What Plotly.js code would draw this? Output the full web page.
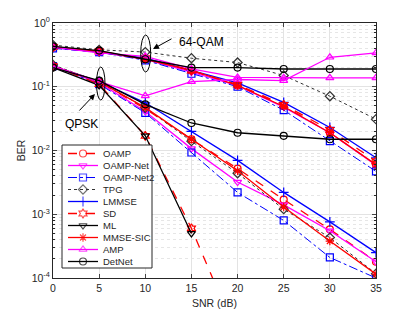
<!DOCTYPE html>
<html><head><meta charset="utf-8">
<script src="https://cdn.plot.ly/plotly-3.0.1.min.js"></script>
<style>html,body{margin:0;padding:0;background:#fff}#plot{width:415px;height:312px}</style>
</head><body><div id="plot"></div>
<script>
const snr = [0, 5, 10, 15, 20, 25, 30, 35];
const xTicks = [0, 5, 10, 15, 20, 25, 30, 35];
const yTickVals = [1e-4, 1e-3, 1e-2, 1e-1, 1];
const yTickText = ['10<sup>-4</sup>', '10<sup>-3</sup>', '10<sup>-2</sup>', '10<sup>-1</sup>', '10<sup>0</sup>'];

// QPSK
const oampQ    = [0.21, 0.12, 0.045, 0.015, 0.0052, 0.0017, 0.00058, 0.00018];
const oampNetQ = [0.21, 0.115, 0.041, 0.0107, 0.0032, 0.0014, 0.00055, 0.00018];
const oampNet2Q= [0.21, 0.11, 0.039, 0.0093, 0.0022, 0.0008, 0.00021, 0.0001];
const tpgQ     = [0.22, 0.12, 0.047, 0.014, 0.0044, 0.0012, 0.00043, 0.000117];
const lmmseQ   = [0.21, 0.12, 0.056, 0.020, 0.007, 0.0022, 0.00076, 0.00025];
const sdQ      = [0.21, 0.11, 0.017, 0.0006, 0.000012];
const mlQ      = [0.20, 0.105, 0.017, 0.0005];
const mmseSicQ = [0.21, 0.12, 0.047, 0.015, 0.0048, 0.0013, 0.00038, 0.000115];
const ampQ     = [0.21, 0.12, 0.072, 0.12, 0.13, 0.125, 0.29, 0.34];
const detNetQ  = [0.20, 0.125, 0.053, 0.027, 0.019, 0.017, 0.015, 0.015];

// 64-QAM
const oamp64    = [0.42, 0.36, 0.27, 0.18, 0.105, 0.050, 0.019, 0.0060];
const oampNet64 = [0.41, 0.35, 0.27, 0.17, 0.104, 0.048, 0.019, 0.0059];
const oampNet264= [0.40, 0.35, 0.26, 0.16, 0.100, 0.043, 0.014, 0.0047];
const tpg64     = [0.45, 0.38, 0.35, 0.28, 0.24, 0.15, 0.071, 0.031];
const lmmse64   = [0.41, 0.35, 0.28, 0.18, 0.115, 0.057, 0.023, 0.0077];
const sd64      = [0.42, 0.36, 0.28, 0.18, 0.108, 0.052, 0.021, 0.0068];
const mmseSic64 = [0.42, 0.36, 0.27, 0.18, 0.105, 0.049, 0.019, 0.0060];
const amp64     = [0.42, 0.34, 0.30, 0.19, 0.14, 0.138, 0.138, 0.138];
const detNet64  = [0.43, 0.37, 0.27, 0.20, 0.20, 0.19, 0.19, 0.19];

const names = ['OAMP','OAMP-Net','OAMP-Net2','TPG','LMMSE','SD','ML','MMSE-SIC','AMP','DetNet'];
const styles = {
  'OAMP':      {color:'#ff0000', dash:'dash',    symbol:'circle-open', width:1.3},
  'OAMP-Net':  {color:'#ff00ff', dash:'solid',   symbol:'triangle-down-open', width:1.3},
  'OAMP-Net2': {color:'#0000ff', dash:'dashdot', symbol:'square-open', width:1},
  'TPG':       {color:'#333333', dash:'dot',     symbol:'diamond-open', width:1},
  'LMMSE':     {color:'#0000ff', dash:'solid',   symbol:'cross-thin-open', width:1.3},
  'SD':        {color:'#ff0000', dash:'dash',    symbol:'hexagram-open', width:1.3},
  'ML':        {color:'#000000', dash:'solid',   symbol:'triangle-down-open', width:1.3},
  'MMSE-SIC':  {color:'#ff0000', dash:'solid',   symbol:'asterisk-open', width:1.3},
  'AMP':       {color:'#ff00ff', dash:'solid',   symbol:'triangle-up-open', width:1.3},
  'DetNet':    {color:'#000000', dash:'solid',   symbol:'circle-open', width:1.3}
};
const qpsk = {'OAMP':oampQ,'OAMP-Net':oampNetQ,'OAMP-Net2':oampNet2Q,'TPG':tpgQ,'LMMSE':lmmseQ,'SD':sdQ,'ML':mlQ,'MMSE-SIC':mmseSicQ,'AMP':ampQ,'DetNet':detNetQ};
const qam = {'OAMP':oamp64,'OAMP-Net':oampNet64,'OAMP-Net2':oampNet264,'TPG':tpg64,'LMMSE':lmmse64,'SD':sd64,'MMSE-SIC':mmseSic64,'AMP':amp64,'DetNet':detNet64};

function tr(n, y){
  const s = styles[n];
  return {x: snr.slice(0, y.length), y: y, name: n, showlegend:false,
    mode:'lines+markers', cliponaxis:true,
    line:{color:s.color, dash:s.dash, width:s.width},
    marker:{symbol:s.symbol, size:7, color:s.color, line:{color:s.color, width:1.2}}};
}
const data = [];
names.forEach(n => { if (qam[n]) data.push(tr(n, qam[n])); });
names.forEach(n => data.push(tr(n, qpsk[n])));

// Legend box drawn in pixel units on an overlaying, hidden axis pair
const W = 323, H = 255, L = 53, T = 23;
const lgX0 = 62, lgX1 = 152, lgY0 = 145, lgY1 = 268, lgRow0 = 153.5, lgRowStep = 12;
data.push({x:[lgX0,lgX1,lgX1,lgX0,lgX0], y:[lgY0,lgY0,lgY1,lgY1,lgY0], xaxis:'x2', yaxis:'y2',
  mode:'lines', fill:'toself', fillcolor:'#ffffff', line:{color:'#262626', width:1}, showlegend:false, hoverinfo:'skip'});
const annotations = [];
names.forEach((n, i) => {
  const s = styles[n], yy = lgRow0 + i*lgRowStep;
  data.push({x:[68, 83, 98], y:[yy, yy, yy], xaxis:'x2', yaxis:'y2', mode:'lines+markers', showlegend:false,
    line:{color:s.color, dash:s.dash, width:s.width},
    marker:{symbol:s.symbol, size:[0,7,0], color:s.color, line:{color:s.color, width:1.2}}});
  annotations.push({xref:'x2', yref:'y2', x:101, y:yy, xanchor:'left', yanchor:'middle', text:n,
    showarrow:false, font:{size:9.5, color:'#262626'}});
});

const px = v => (v - L) / W, py = v => (T + H - v) / H;
annotations.push(
  {xref:'paper', yref:'paper', x:px(153), y:py(49), ax:20, ay:-11, text:'', showarrow:true, arrowhead:2, arrowsize:1.2, arrowwidth:1, arrowcolor:'#000'},
  {xref:'paper', yref:'paper', x:px(177), y:py(42), xanchor:'left', yanchor:'middle', text:'64-QAM', showarrow:false, font:{size:12, color:'#000'}},
  {xref:'paper', yref:'paper', x:px(95), y:py(94), ax:-17, ay:18, text:'', showarrow:true, arrowhead:2, arrowsize:1.2, arrowwidth:1, arrowcolor:'#000'},
  {xref:'paper', yref:'paper', x:px(63), y:py(124), xanchor:'left', yanchor:'middle', text:'QPSK', showarrow:false, font:{size:12, color:'#000'}}
);

const layout = {
  width:415, height:312,
  margin:{l:L, r:415-L-W, t:T, b:312-T-H},
  paper_bgcolor:'#fff', plot_bgcolor:'#fff',
  font:{family:'Liberation Sans, Arial, sans-serif', size:10.5, color:'#262626'},
  showlegend:false,
  xaxis:{range:[0,35], tickvals:xTicks, ticks:'inside', ticklen:4, mirror:'allticks',
    showline:true, linecolor:'#262626', linewidth:1, showgrid:true, gridcolor:'#e3e3e3',
    zeroline:false, title:{text:'SNR (dB)', standoff:7, font:{size:10.5}}},
  yaxis:{type:'log', range:[-4,0], tickvals:yTickVals, ticktext:yTickText, ticks:'inside', ticklen:4,
    mirror:'allticks', showline:true, linecolor:'#262626', linewidth:1, showgrid:true, gridcolor:'#e3e3e3',
    minor:{showgrid:true, gridcolor:'#e6e6e6', griddash:'dot', ticks:'inside', ticklen:2, tickcolor:'#262626', dtick:'D1'},
    zeroline:false, title:{text:'BER', standoff:4, font:{size:10.5}}},
  xaxis2:{overlaying:'x', range:[L, L+W], visible:false, fixedrange:true},
  yaxis2:{overlaying:'y', range:[T+H, T], visible:false, fixedrange:true},
  shapes:[
    {type:'circle', xref:'paper', yref:'paper', x0:px(140.7), x1:px(150.7), y0:py(72), y1:py(35), line:{color:'#000', width:1}},
    {type:'circle', xref:'paper', yref:'paper', x0:px(96.5), x1:px(105), y0:py(100), y1:py(67), line:{color:'#000', width:1}}
  ],
  annotations: annotations
};
Plotly.newPlot('plot', data, layout, {displayModeBar:false, staticPlot:true});
</script></body></html>
